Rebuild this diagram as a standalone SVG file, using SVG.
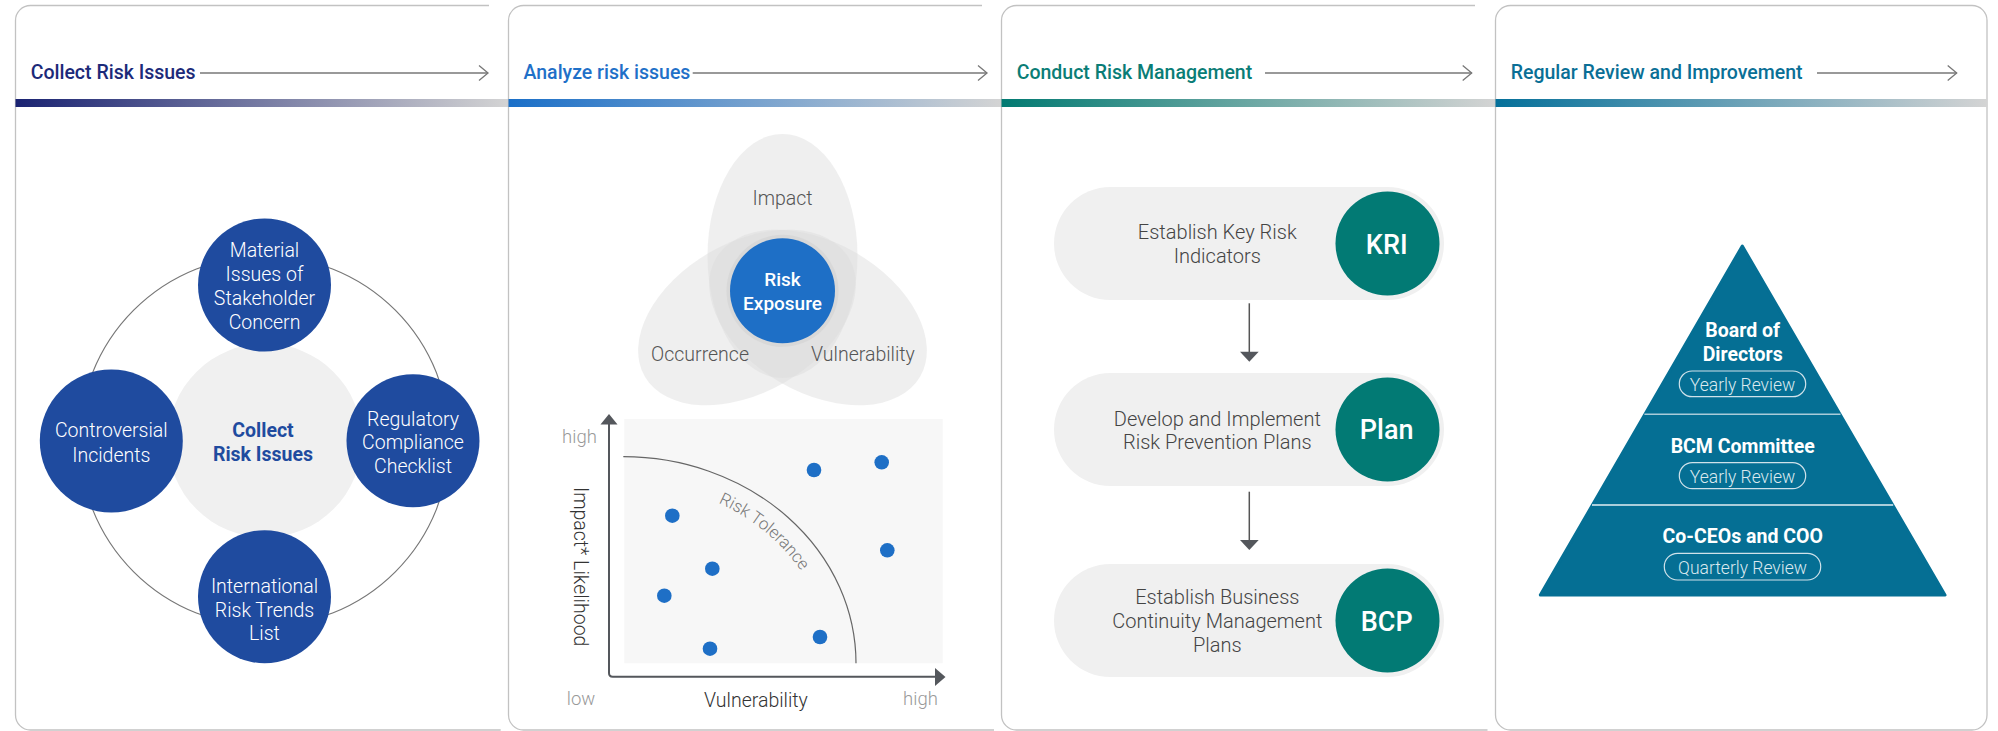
<svg xmlns="http://www.w3.org/2000/svg" xmlns:xlink="http://www.w3.org/1999/xlink" width="1998" height="731" viewBox="0 0 1998 731">
<style>
text{font-family:Roboto,"Liberation Sans",Arial,sans-serif}
.hdr{font-size:19.5px;font-weight:500}
.lt{font-weight:300}
.md{font-weight:500}
.bd{font-weight:700}
.panel{fill:none;stroke:#c2c2c2;stroke-width:1.3}
.harrow{fill:none;stroke:#777;stroke-width:1.3}
.c1{fill:#1f4b9f}
.c1t{fill:#fff;font-size:19.5px;font-weight:300;text-anchor:middle}
.gray{fill:#555;font-size:19.5px;font-weight:300;text-anchor:middle}
.axis{fill:none;stroke:#54575c;stroke-width:2;stroke-linejoin:round}
.axh{fill:#54575c}
.dot{fill:#1e6fc6}
.pill{fill:#f0f0f0}
.tc{fill:#027a74}
.ptxt{fill:#444;font-size:20px;font-weight:300;text-anchor:middle}
.ctxt{fill:#fff;font-size:27px;font-weight:500;text-anchor:middle}
.rv{fill:none;stroke:#cfe2ea;stroke-width:1.2}
.rvt{fill:#dbe9ef;font-size:17.5px;font-weight:300;text-anchor:middle}
.pyt{fill:#fff;font-size:19.5px;font-weight:700;text-anchor:middle}
.venn{fill:#dcdcdc;fill-opacity:0.45}
</style>
<defs>
<linearGradient id="g1" x1="0" x2="1" y1="0" y2="0"><stop offset="0" stop-color="#1a2372"/><stop offset="1" stop-color="#d4d4d4"/></linearGradient>
<linearGradient id="g2" x1="0" x2="1" y1="0" y2="0"><stop offset="0" stop-color="#1a6fc8"/><stop offset="1" stop-color="#d4d4d4"/></linearGradient>
<linearGradient id="g3" x1="0" x2="1" y1="0" y2="0"><stop offset="0" stop-color="#027a72"/><stop offset="1" stop-color="#d4d4d4"/></linearGradient>
<linearGradient id="g4" x1="0" x2="1" y1="0" y2="0"><stop offset="0" stop-color="#05709a"/><stop offset="1" stop-color="#d4d4d4"/></linearGradient>
<path id="tolpath" d="M623.3,482.7 A206.7 180.6 0 0 1 830,663.3"/>
</defs>

<!-- Panels -->
<g id="panel1">
<path class="panel" d="M489,5.5 H30.5 A15 15 0 0 0 15.5,20.5 V715 A15 15 0 0 0 30.5,730 H500.7"/>
<rect x="15.5" y="99" width="493" height="8" fill="url(#g1)"/>
<text class="hdr" x="30.7" y="78.5" fill="#1c2a79">Collect Risk Issues</text>
<line class="harrow" x1="200" y1="73" x2="488" y2="73"/>
<polyline class="harrow" points="479,65.5 488,73 479,80.5"/>
</g>
<g id="panel2">
<path class="panel" d="M982,5.5 H523.5 A15 15 0 0 0 508.5,20.5 V715 A15 15 0 0 0 523.5,730 H994"/>
<rect x="508.5" y="99" width="493" height="8" fill="url(#g2)"/>
<text class="hdr" x="523.5" y="78.5" fill="#1f70c8">Analyze risk issues</text>
<line class="harrow" x1="692.7" y1="73" x2="987" y2="73"/>
<polyline class="harrow" points="978,65.5 987,73 978,80.5"/>
</g>
<g id="panel3">
<path class="panel" d="M1475,5.5 H1016.5 A15 15 0 0 0 1001.5,20.5 V715 A15 15 0 0 0 1016.5,730 H1487.5"/>
<rect x="1001.5" y="99" width="494" height="8" fill="url(#g3)"/>
<text class="hdr" x="1016.7" y="78.5" fill="#0a7d76">Conduct Risk Management</text>
<line class="harrow" x1="1265" y1="73" x2="1471.7" y2="73"/>
<polyline class="harrow" points="1462.7,65.5 1471.7,73 1462.7,80.5"/>
</g>
<g id="panel4">
<path class="panel" d="M1972,5.5 H1510.5 A15 15 0 0 0 1495.5,20.5 V715 A15 15 0 0 0 1510.5,730 H1972 A15 15 0 0 0 1987,715 V20.5 A15 15 0 0 0 1972,5.5 Z"/>
<rect x="1495.5" y="99" width="491.5" height="8" fill="url(#g4)"/>
<text class="hdr" x="1510.7" y="78.5" fill="#0a6f96">Regular Review and Improvement</text>
<line class="harrow" x1="1817" y1="73" x2="1956.7" y2="73"/>
<polyline class="harrow" points="1947.7,65.5 1956.7,73 1947.7,80.5"/>
</g>

<!-- Panel 1: collect -->
<g id="collect-ring">
<circle cx="264.5" cy="441" r="185" fill="none" stroke="#777" stroke-width="1.2"/>
</g>
<g id="collect-center">
<circle cx="265" cy="440.5" r="97" fill="#f0f0f0"/>
<text x="263" y="436.7" font-size="19.5" class="bd" fill="#1f4b9f" text-anchor="middle">Collect</text>
<text x="263" y="460.7" font-size="19.5" class="bd" fill="#1f4b9f" text-anchor="middle">Risk Issues</text>
</g>
<g id="material">
<circle class="c1" cx="264.5" cy="285" r="66.5"/>
<text class="c1t" x="264.5" y="257.3">Material</text>
<text class="c1t" x="264.5" y="281">Issues of</text>
<text class="c1t" x="264.5" y="305">Stakeholder</text>
<text class="c1t" x="264.5" y="329">Concern</text>
</g>
<g id="controversial">
<circle class="c1" cx="111.3" cy="441" r="71.5"/>
<text class="c1t" x="111.3" y="437.3">Controversial</text>
<text class="c1t" x="111.3" y="461.7">Incidents</text>
</g>
<g id="regulatory">
<circle class="c1" cx="413" cy="440.8" r="66.5"/>
<text class="c1t" x="413" y="425.7">Regulatory</text>
<text class="c1t" x="413" y="449.3">Compliance</text>
<text class="c1t" x="413" y="473.3">Checklist</text>
</g>
<g id="international">
<circle class="c1" cx="264.5" cy="596.7" r="66.5"/>
<text class="c1t" x="264.5" y="592.7">International</text>
<text class="c1t" x="264.5" y="616.7">Risk Trends</text>
<text class="c1t" x="264.5" y="640">List</text>
</g>

<!-- Panel 2: Venn -->
<g id="venn">
<ellipse class="venn" cx="782.5" cy="256" rx="75" ry="122"/>
<ellipse class="venn" cx="782.5" cy="256" rx="75" ry="118" transform="rotate(120 782.5 297)"/>
<ellipse class="venn" cx="782.5" cy="256" rx="75" ry="118" transform="rotate(-120 782.5 297)"/>
<text class="gray" x="782.5" y="205">Impact</text>
<text class="gray" x="700" y="360.7">Occurrence</text>
<text class="gray" x="863" y="360.7">Vulnerability</text>
</g>
<g id="risk-exposure">
<circle cx="782.5" cy="290.8" r="56" fill="#d2d2d2" fill-opacity="0.6"/>
<circle cx="782.5" cy="290.8" r="52.5" fill="#1e6fc6"/>
<text x="782.5" y="285.7" font-size="19" class="md" fill="#fff" text-anchor="middle">Risk</text>
<text x="782.5" y="310" font-size="19" class="md" fill="#fff" text-anchor="middle">Exposure</text>
</g>

<!-- Panel 2: scatter -->
<g id="scatter">
<rect x="624.3" y="419" width="318.4" height="244.3" fill="#f7f7f7"/>
<path d="M623.3,456.7 A232.7 206.6 0 0 1 856,663.3" fill="none" stroke="#666" stroke-width="1.2"/>
<text font-size="17" class="lt" fill="#777"><textPath xlink:href="#tolpath" href="#tolpath" startOffset="152" text-anchor="middle">Risk Tolerance</textPath></text>
<circle class="dot" cx="672.3" cy="515.7" r="7.3"/>
<circle class="dot" cx="712.3" cy="568.7" r="7.3"/>
<circle class="dot" cx="664.3" cy="595.7" r="7.3"/>
<circle class="dot" cx="710" cy="648.7" r="7.3"/>
<circle class="dot" cx="814" cy="470" r="7.3"/>
<circle class="dot" cx="881.7" cy="462.3" r="7.3"/>
<circle class="dot" cx="887.3" cy="550.3" r="7.3"/>
<circle class="dot" cx="820" cy="637" r="7.3"/>
<path class="axis" d="M609,423 V673 Q609,676.7 612.7,676.7 H936"/>
<polygon class="axh" points="600.5,424.5 617.5,424.5 609,414"/>
<polygon class="axh" points="935,668 935,686 945.5,677"/>
<text x="579.5" y="442.7" font-size="18.5" class="lt" fill="#999" text-anchor="middle">high</text>
<text x="581" y="705" font-size="18.5" class="lt" fill="#999" text-anchor="middle">low</text>
<text x="920.5" y="705" font-size="18.5" class="lt" fill="#999" text-anchor="middle">high</text>
<text x="756" y="706.7" font-size="19.5" class="lt" fill="#333" text-anchor="middle">Vulnerability</text>
<text x="0" y="0" font-size="19.5" class="lt" fill="#333" text-anchor="middle" transform="translate(573.5 566.7) rotate(90)">Impact* Likelihood</text>
</g>

<!-- Panel 3 -->
<g id="kri">
<rect class="pill" x="1054" y="187" width="390" height="113" rx="56.5"/>
<circle class="tc" cx="1387.5" cy="243.5" r="52"/>
<text class="ctxt" x="1386.7" y="253.5">KRI</text>
<text class="ptxt" x="1217.3" y="239">Establish Key Risk</text>
<text class="ptxt" x="1217.3" y="262.7">Indicators</text>
</g>
<g id="plan">
<rect class="pill" x="1054" y="373" width="390" height="113" rx="56.5"/>
<circle class="tc" cx="1387.5" cy="429.5" r="52"/>
<text class="ctxt" x="1386.7" y="439.3">Plan</text>
<text class="ptxt" x="1217.3" y="426">Develop and Implement</text>
<text class="ptxt" x="1217.3" y="449.3">Risk Prevention Plans</text>
</g>
<g id="bcp">
<rect class="pill" x="1054" y="564" width="390" height="113" rx="56.5"/>
<circle class="tc" cx="1387.5" cy="620.5" r="52"/>
<text class="ctxt" x="1386.7" y="630.5">BCP</text>
<text class="ptxt" x="1217.3" y="604">Establish Business</text>
<text class="ptxt" x="1217.3" y="628.3">Continuity Management</text>
<text class="ptxt" x="1217.3" y="651.7">Plans</text>
</g>
<g id="connectors">
<line x1="1249.3" y1="303.3" x2="1249.3" y2="352" stroke="#555" stroke-width="1.5"/>
<polygon points="1240,351.7 1258.7,351.7 1249.3,361.7" fill="#54575c"/>
<line x1="1249.3" y1="491.7" x2="1249.3" y2="540.5" stroke="#555" stroke-width="1.5"/>
<polygon points="1240,540 1258.7,540 1249.3,550" fill="#54575c"/>
</g>

<!-- Panel 4: pyramid -->
<g id="pyramid">
<path d="M1742.3,246 L1945,595 L1540.3,595 Z" fill="#056f94" stroke="#056f94" stroke-width="3" stroke-linejoin="round"/>
<line x1="1644.4" y1="414.3" x2="1840.5" y2="414.3" stroke="#a9cbd9" stroke-width="1.5"/>
<line x1="1592" y1="505" x2="1893.2" y2="505" stroke="#e3eef3" stroke-width="1.5"/>
</g>
<g id="board">
<text class="pyt" x="1742.7" y="336.7">Board of</text>
<text class="pyt" x="1742.7" y="360.7">Directors</text>
<rect class="rv" x="1679.3" y="371" width="126.4" height="25.7" rx="12.8"/>
<text class="rvt" x="1742.5" y="391.2">Yearly Review</text>
</g>
<g id="bcm">
<text class="pyt" x="1742.7" y="452.7">BCM Committee</text>
<rect class="rv" x="1679.3" y="462.7" width="126.4" height="26" rx="13"/>
<text class="rvt" x="1742.5" y="482.8">Yearly Review</text>
</g>
<g id="ceo">
<text class="pyt" x="1742.7" y="543.3">Co-CEOs and COO</text>
<rect class="rv" x="1664.3" y="553.3" width="156.4" height="26.7" rx="13.3"/>
<text class="rvt" x="1742.5" y="573.7">Quarterly Review</text>
</g>
</svg>
